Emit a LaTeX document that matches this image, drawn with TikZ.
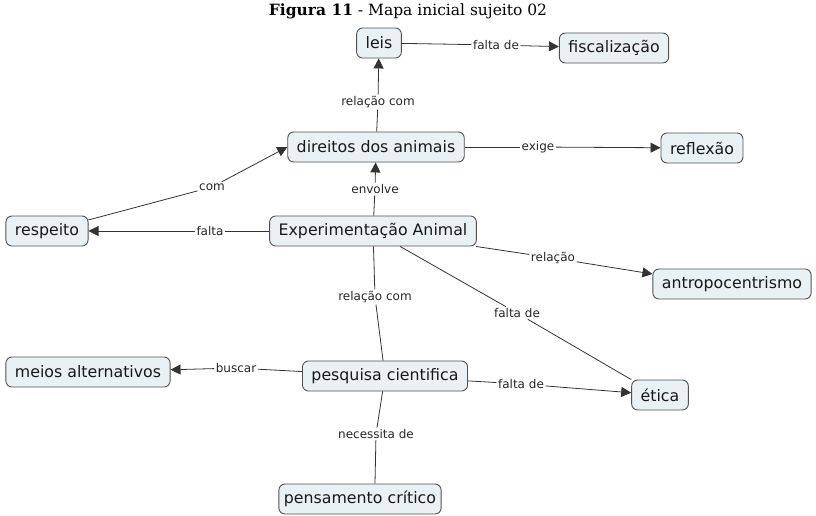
\documentclass[tikz,border=0pt]{standalone}
\usepackage{fontspec}
\newfontfamily\mapfont{DejaVu Sans}
\newfontfamily\titlefont{DejaVu Serif}
\usetikzlibrary{arrows.meta}
\definecolor{conceptfill}{HTML}{EAF1F5}
\definecolor{conceptline}{HTML}{505050}
\definecolor{linkline}{HTML}{333333}
\tikzset{
  concept/.style={draw=conceptline, line width=0.9pt, fill=conceptfill, rounded corners=6pt,
    font=\mapfont\fontsize{15.8}{18}\selectfont, text=black!90, minimum height=30pt, inner xsep=9pt},
  linklabel/.style={font=\mapfont\fontsize{12}{14}\selectfont, text=black!85, inner sep=1.5pt},
  link/.style={draw=linkline, line width=0.8pt},
  arrowlink/.style={link, -{Triangle[length=10pt,width=10pt]}},
}
\begin{document}
\begin{tikzpicture}[x=1pt,y=-1pt]
\useasboundingbox (0,0) rectangle (816,515);
\node (title) at (408,11) {\titlefont\fontsize{15.5}{18}\selectfont\textbf{Figura 11} - Mapa inicial sujeito 02};

% concepts
\node[concept] (leis) at (379,43) {leis};
\node[concept] (fisc) at (614,48) {fiscalização};
\node[concept] (dir) at (376,147) {direitos dos animais};
\node[concept] (refl) at (702,148) {reflexão};
\node[concept] (resp) at (47,231) {respeito};
\node[concept] (exp) at (373,231) {Experimentação Animal};
\node[concept] (antro) at (732,284) {antropocentrismo};
\node[concept] (meios) at (88,372) {meios alternativos};
\node[concept] (pesq) at (385,376) {pesquisa cientifica};
\node[concept] (etica) at (660,395) {ética};
\node[concept, inner xsep=5pt] (pens) at (360,499) {pensamento crítico};

% linking phrases
\node[linklabel] (lFalta1) at (496,45) {falta de};
\node[linklabel] (lRel1) at (378,102) {relação com};
\node[linklabel] (lExige) at (538,147) {exige};
\node[linklabel] (lEnv) at (375,189) {envolve};
\node[linklabel] (lCom) at (212,187) {com};
\node[linklabel] (lFalta) at (210,231) {falta};
\node[linklabel] (lRelacao) at (553,258) {relação};
\node[linklabel] (lFalta2) at (517,313) {falta de};
\node[linklabel] (lRel2) at (375,297) {relação com};
\node[linklabel] (lBuscar) at (236,368) {buscar};
\node[linklabel] (lFalta3) at (521,384) {falta de};
\node[linklabel] (lNec) at (376,434) {necessita de};

% connections
\draw[link] (leis) -- (lFalta1);
\draw[arrowlink] (lFalta1) -- (fisc);
\draw[link] (dir) -- (lRel1);
\draw[arrowlink] (lRel1) -- (leis);
\draw[link] (dir) -- (lExige);
\draw[arrowlink] (lExige) -- (refl);
\draw[link] (exp) -- (lEnv);
\draw[arrowlink] (lEnv) -- (dir);
\draw[link] (resp) -- (lCom);
\draw[arrowlink] (lCom) -- (dir.west);
\draw[link] (exp) -- (lFalta);
\draw[arrowlink] (lFalta) -- (resp);
\draw[link] (exp) -- (lRelacao);
\draw[arrowlink] (lRelacao) -- ([yshift=10pt]antro.west);
\draw[link] (exp) -- (lFalta2);
\draw[link] (lFalta2) -- (etica.north west);
\draw[link] (exp) -- (lRel2);
\draw[link] (lRel2) -- (pesq);
\draw[link] (pesq) -- (lBuscar);
\draw[arrowlink] (lBuscar) -- (meios);
\draw[link] (pesq) -- (lFalta3);
\draw[arrowlink] (lFalta3) -- (etica);
\draw[link] (pesq) -- (lNec);
\draw[link] (lNec) -- ([xshift=15pt]pens.north);
\end{tikzpicture}
\end{document}
